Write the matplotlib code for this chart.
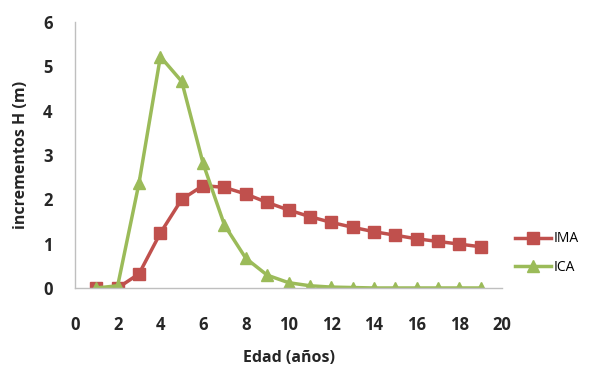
import matplotlib
matplotlib.use("Agg")
import matplotlib.pyplot as plt

edad = list(range(1, 20))
ima = [0.0, 0.0, 0.32, 1.24, 2.0, 2.31, 2.27, 2.12, 1.93, 1.76,
       1.61, 1.48, 1.37, 1.27, 1.19, 1.11, 1.05, 0.99, 0.93]
ica = [0.0, 0.05, 2.37, 5.22, 4.66, 2.81, 1.42, 0.67, 0.29, 0.12,
       0.05, 0.02, 0.01, 0.0, 0.0, 0.0, 0.0, 0.0, 0.0]

RED = "#C0504D"
GREEN = "#9BBB59"
TXT = "#262626"

plt.rcParams["font.family"] = ["Open Sans", "DejaVu Sans"]

fig = plt.figure(figsize=(6.11, 3.74), dpi=100)
ax = fig.add_axes([0.1227, 0.23, 0.699, 0.711])

ax.plot(edad, ima, color=RED, lw=2.5, marker="s", ms=8.5, label="IMA")
ax.plot(edad, ica, color=GREEN, lw=2.5, marker="^", ms=8.5, label="ICA")

ax.set_xlim(0, 20)
ax.set_ylim(0, 6)
ax.set_xticks(range(0, 21, 2))
ax.set_yticks(range(0, 7))
for s in ("top", "right"):
    ax.spines[s].set_visible(False)
for s in ("left", "bottom"):
    ax.spines[s].set_color("#BFBFBF")
    ax.spines[s].set_linewidth(1.0)
ax.tick_params(axis="x", length=0, pad=20, labelsize=12, colors=TXT)
ax.tick_params(axis="y", length=0, pad=16, labelsize=12, colors=TXT)
for lab in ax.get_xticklabels() + ax.get_yticklabels():
    lab.set_fontweight("bold")

ax.set_xlabel("Edad (años)", fontsize=11.5, fontweight="bold", color=TXT, labelpad=12)
ax.set_ylabel("incrementos H (m)", fontsize=11.5, fontweight="bold", color=TXT, labelpad=10)

ax.legend(loc="center left", bbox_to_anchor=(1.0, 0.13), frameon=False,
          fontsize=10, handlelength=2.6, labelspacing=1.0, handletextpad=0.2)

fig.savefig("out.png", dpi=100)
